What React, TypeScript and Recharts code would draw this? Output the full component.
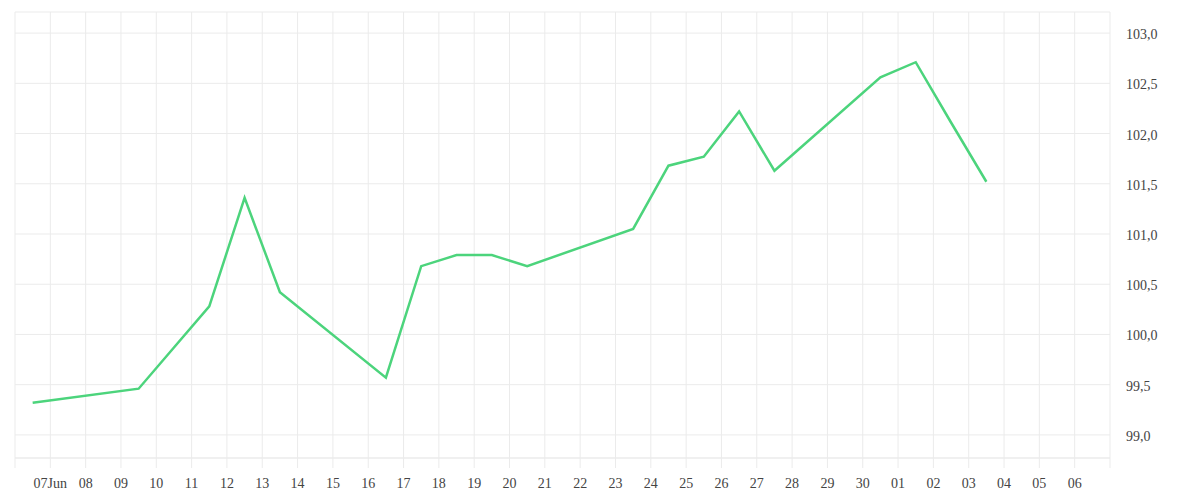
import React from "react";
import { LineChart, Line, XAxis, YAxis, CartesianGrid } from "recharts";

// Day positions (0 = 06 Jun, 1 = 07 Jun ... 30 = 06 Jul); points sit mid-day
const dayPositions = [0.5, 3.5, 4.5, 5.5, 6.5, 7.5, 10.5, 11.5, 12.5, 13.5, 14.5, 17.5, 18.5, 19.5, 20.5, 21.5, 24.5, 25.5, 26.5, 27.5];
const prices = [99.32, 99.46, 99.87, 100.28, 101.36, 100.42, 99.57, 100.68, 100.79, 100.79, 100.68, 101.05, 101.68, 101.77, 102.22, 101.63, 102.56, 102.71, 102.11, 101.52];

const xTickLabels = ["", "07Jun", "08", "09", "10", "11", "12", "13", "14", "15", "16", "17", "18", "19", "20", "21", "22", "23", "24", "25", "26", "27", "28", "29", "30", "01", "02", "03", "04", "05", "06", ""];
const yTicks = [99.0, 99.5, 100.0, 100.5, 101.0, 101.5, 102.0, 102.5, 103.0];

const data = dayPositions.map((d, i) => ({ day: d, price: prices[i] }));
const xTicks = xTickLabels.map((_, i) => i);

const GRID = "#ebebeb";
const TEXT = "#444";
const FONT = "'Liberation Serif', 'Times New Roman', serif";

export default function App() {
  return (
    <div style={{ width: 1184, height: 484, fontFamily: FONT }}>
      <LineChart width={1184} height={484} data={data} margin={{ top: 4, right: 0, bottom: 0, left: 7 }}>
        <CartesianGrid stroke={GRID} strokeWidth={1} />
        <XAxis
          dataKey="day"
          type="number"
          domain={[0, 31]}
          ticks={xTicks}
          interval={0}
          tickFormatter={(v: number) => xTickLabels[v] ?? ""}
          axisLine={{ stroke: GRID }}
          tickLine={{ stroke: GRID }}
          tickSize={10}
          tickMargin={10}
          height={34}
          tick={{ fill: TEXT, fontSize: 14, fontFamily: FONT }}
        />
        <YAxis
          orientation="right"
          type="number"
          domain={[98.77, 103.21]}
          ticks={yTicks}
          interval={0}
          tickFormatter={(v: number) => v.toFixed(1).replace(".", ",")}
          axisLine={false}
          tickLine={false}
          tickSize={6}
          tickMargin={10}
          width={82}
          tick={{ fill: TEXT, fontSize: 14, fontFamily: FONT, textAnchor: "start", dy: 1 }}
        />
        <Line
          type="linear"
          dataKey="price"
          stroke="#4cd47c"
          strokeWidth={2.5}
          dot={false}
          activeDot={false}
          isAnimationActive={false}
        />
      </LineChart>
    </div>
  );
}
